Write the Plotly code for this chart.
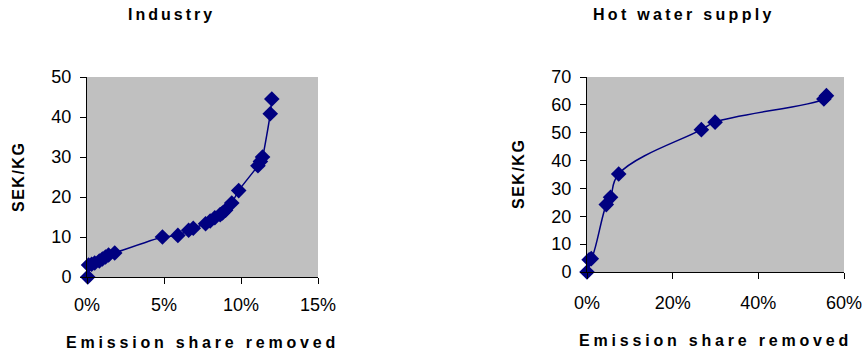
import plotly.graph_objects as go

# Industry
ind_share = [0.0005, 0.001, 0.003, 0.005, 0.008, 0.010, 0.012, 0.014, 0.018,
             0.049, 0.059, 0.066, 0.069, 0.077, 0.080, 0.083, 0.0865, 0.088, 0.090, 0.094,
             0.0985, 0.111, 0.1126, 0.114, 0.119, 0.120]
ind_cost = [0.0, 3.0, 3.2, 3.5, 4.0, 4.5, 5.0, 5.5, 6.0,
            10.0, 10.4, 11.7, 12.2, 13.3, 14.0, 14.8, 15.6, 16.0, 16.7, 18.5,
            21.6, 27.8, 28.9, 30.0, 40.8, 44.5]

# Hot water supply
hw_share = [0.000, 0.005, 0.010, 0.045, 0.055, 0.074, 0.267, 0.299, 0.553, 0.559]
hw_cost = [0.0, 4.4, 4.8, 24.2, 26.8, 35.2, 51.1, 53.8, 62.1, 63.3]

ind_xticks = [0, 0.05, 0.10, 0.15]
ind_xlabels = ["0%", "5%", "10%", "15%"]
ind_yticks = [0, 10, 20, 30, 40, 50]
hw_xticks = [0, 0.2, 0.4, 0.6]
hw_xlabels = ["0%", "20%", "40%", "60%"]
hw_yticks = [0, 10, 20, 30, 40, 50, 60, 70]

W, H = 866, 358
NAVY = "#000080"
FONT = "Liberation Sans, Arial, sans-serif"

def px(x):
    return x / W

def py(y):
    return 1 - y / H

fig = go.Figure()
fig.add_trace(go.Scatter(x=ind_share, y=ind_cost, mode="lines+markers",
                         line=dict(color=NAVY, width=1.5, shape="spline", smoothing=0.6),
                         marker=dict(symbol="diamond", size=12, color=NAVY),
                         xaxis="x", yaxis="y", cliponaxis=False, showlegend=False))
fig.add_trace(go.Scatter(x=hw_share, y=hw_cost, mode="lines+markers",
                         line=dict(color=NAVY, width=1.5, shape="spline", smoothing=1.2),
                         marker=dict(symbol="diamond", size=12, color=NAVY),
                         xaxis="x2", yaxis="y2", cliponaxis=False, showlegend=False))

axis_common = dict(showgrid=False, zeroline=False, showline=True, linecolor="#000000",
                   linewidth=1, ticks="outside", ticklen=6, tickcolor="#000000",
                   automargin=False,
                   tickfont=dict(family=FONT, size=18, color="#000000"), mirror=False)

fig.update_layout(
    width=W, height=H,
    autosize=False,
    margin=dict(l=0, r=0, t=0, b=0, pad=0, autoexpand=False),
    paper_bgcolor="white",
    plot_bgcolor="#C0C0C0",
    showlegend=False,
    font=dict(family=FONT, color="#000000"),
    xaxis=dict(domain=[px(87), px(318)], range=[0, 0.15], tickvals=ind_xticks,
               ticktext=ind_xlabels, anchor="y", ticklabelstandoff=5, **axis_common),
    yaxis=dict(domain=[py(277), py(77)], range=[0, 50], tickvals=ind_yticks,
               anchor="x", ticklabelstandoff=5, **axis_common),
    xaxis2=dict(domain=[px(587), px(844)], range=[0, 0.6], tickvals=hw_xticks,
                ticktext=hw_xlabels, anchor="y2", ticklabelstandoff=8, **axis_common),
    yaxis2=dict(domain=[py(272), py(77)], range=[0, 70], tickvals=hw_yticks,
                anchor="x2", ticklabelstandoff=5, **axis_common),
)

def ann(text, x, y, angle=0, spacing=3.0, size=16):
    fig.add_annotation(text=f'<span style="letter-spacing:{spacing}px"><b>{text}</b></span>',
                       x=px(x), y=py(y), xref="paper", yref="paper",
                       xanchor="center", yanchor="middle", showarrow=False,
                       textangle=angle,
                       font=dict(family=FONT, size=size, color="#000000", weight="bold"))

ann("Industry", 171, 14, spacing=3.0)
ann("Hot water supply", 684, 14, spacing=3.3)
ann("Emission share removed", 202, 342, spacing=3.8)
ann("Emission share removed", 715, 340, spacing=3.8)
ann("SEK/KG", 19, 177, angle=-90, spacing=1.5)
ann("SEK/KG", 518, 174, angle=-90, spacing=1.5)

fig.write_html("out.html", config={"displayModeBar": False},
               post_script="document.body.style.margin='0';")
